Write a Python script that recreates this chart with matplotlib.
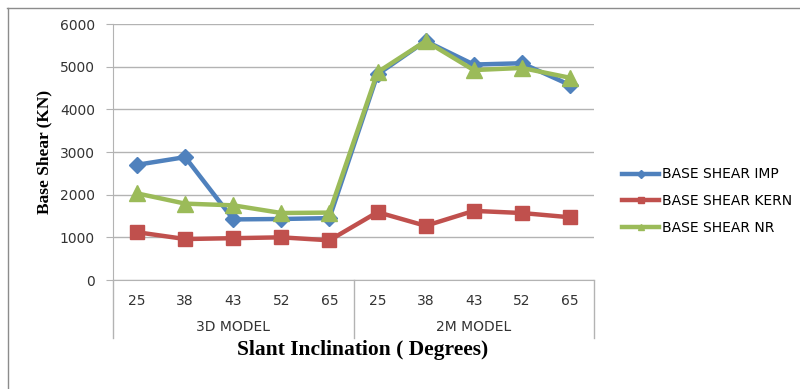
import matplotlib
matplotlib.use("Agg")
import matplotlib.pyplot as plt
import matplotlib.transforms as mtransforms
from matplotlib.lines import Line2D

# slant angles tested for each model type
angles = ["25", "38", "43", "52", "65", "25", "38", "43", "52", "65"]
groups = ["3D MODEL", "2M MODEL"]
group_size = 5

shear_imp = [2700, 2880, 1420, 1430, 1450, 4820, 5600, 5050, 5080, 4570]
shear_kern = [1120, 960, 980, 1000, 930, 1590, 1270, 1620, 1570, 1470]
shear_nr = [2030, 1790, 1750, 1570, 1580, 4870, 5600, 4920, 4970, 4740]

y_ticks = [0, 1000, 2000, 3000, 4000, 5000, 6000]

BLUE = "#4F81BD"
RED = "#C0504D"
GREEN = "#9BBB59"
GRID = "#b3b3b3"

fig = plt.figure(figsize=(8, 3.89), dpi=100)
ax = fig.add_axes([113 / 800, 1 - 280 / 389, 481 / 800, 256 / 389])

x = list(range(len(angles)))
ax.plot(x, shear_imp, color=BLUE, lw=3.2, marker="D", ms=8.5, label="BASE SHEAR IMP")
ax.plot(x, shear_kern, color=RED, lw=3.2, marker="s", ms=10, label="BASE SHEAR KERN")
ax.plot(x, shear_nr, color=GREEN, lw=3.2, marker="^", ms=11, label="BASE SHEAR NR")

ax.set_xlim(-0.5, len(angles) - 0.5)
ax.set_ylim(0, 6000)
ax.set_yticks(y_ticks)
ax.set_yticklabels([str(v) for v in y_ticks], fontsize=10, color="#333333")
ax.tick_params(axis="y", length=5, color=GRID, pad=8)
ax.yaxis.grid(True, color=GRID, lw=1)
ax.set_axisbelow(True)

ax.set_xticks(x)
ax.set_xticklabels(angles, fontsize=10, color="#333333")
ax.tick_params(axis="x", length=0, pad=10)

for side in ["top", "right"]:
    ax.spines[side].set_visible(False)
ax.spines["left"].set_color(GRID)
ax.spines["bottom"].set_color(GRID)

# category group separators and group names under the x axis
trans = mtransforms.blended_transform_factory(ax.transData, ax.transAxes)
sep_len = 58 / 256
for i in range(len(groups) + 1):
    xs = i * group_size - 0.5
    ax.add_line(Line2D([xs, xs], [0, -sep_len], transform=trans, color=GRID,
                       lw=1, clip_on=False))
for i, name in enumerate(groups):
    ax.text(i * group_size + (group_size - 1) / 2, -47 / 256, name, transform=trans,
            ha="center", va="center", fontsize=10, color="#333333")

ax.text(4.68, -70 / 256, "Slant Inclination ( Degrees)", transform=trans,
        ha="center", va="center", fontsize=15.5, fontweight="bold",
        family="Liberation Serif")
ax.text(-69 / 481, 0.5, "Base Shear (KN)", transform=ax.transAxes, rotation=90,
        ha="center", va="center", fontsize=12.5, fontweight="bold",
        family="Liberation Serif")

fig.legend(loc="center left", bbox_to_anchor=(615 / 800, 1 - 201 / 389),
           frameon=False, fontsize=10, handlelength=2.7, handletextpad=0.2,
           labelspacing=0.9, borderpad=0, markerscale=0.45)

# chart border
fig.add_artist(Line2D([7 / 800, 1], [1 - 8 / 389, 1 - 8 / 389], color="#8c8c8c", lw=1))
fig.add_artist(Line2D([8 / 800, 8 / 800], [0, 1 - 8 / 389], color="#8c8c8c", lw=1))

fig.savefig("out.png", dpi=100)
